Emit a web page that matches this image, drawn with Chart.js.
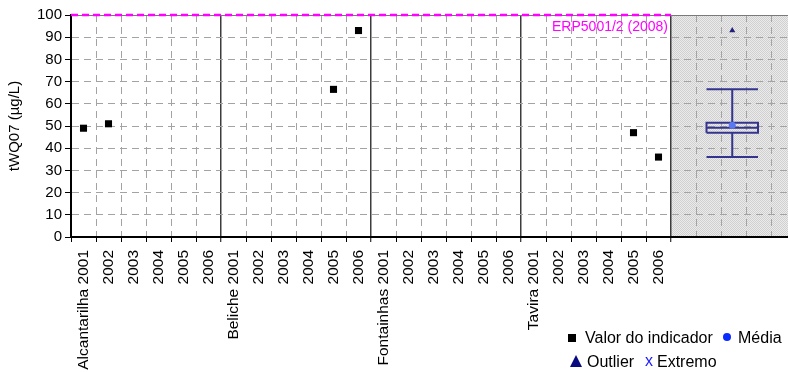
<!DOCTYPE html>
<html>
<head>
<meta charset="utf-8">
<script src="https://cdn.jsdelivr.net/npm/chart.js@4/dist/chart.umd.min.js"></script>
<style>
  html, body { margin: 0; padding: 0; background: #fff; }
  #wrap { position: relative; width: 788px; height: 372px; font-family: 'Liberation Sans', Arial, sans-serif; }
  #c { position: absolute; left: 0; top: 0; }
  .lg { position: absolute; font-size: 16px; line-height: 18px; color: #000; white-space: nowrap; }
  .sym { position: absolute; }
</style>
</head>
<body>
<div id="wrap">
  <canvas id="c" width="788" height="372"></canvas>
  <!-- legend -->
  <div class="sym" style="left:568px;top:334px;width:8px;height:8px;background:#000;"></div>
  <div class="lg" style="left:585px;top:329px;">Valor do indicador</div>
  <div class="sym" style="left:723px;top:333px;width:8px;height:8px;border-radius:50%;background:#0a2cff;"></div>
  <div class="lg" style="left:738px;top:329px;">Média</div>
  <div class="sym" style="left:570px;top:355px;width:0;height:0;border-left:6.5px solid transparent;border-right:6.5px solid transparent;border-bottom:12px solid #0a0a80;"></div>
  <div class="lg" style="left:587px;top:353px;">Outlier</div>
  <div class="lg" style="left:645px;top:352px;color:#1a1aff;">x</div>
  <div class="lg" style="left:657px;top:353px;">Extremo</div>
</div>
<script>
// Stations and sampling years along the x axis
const stations = ['Alcantarilha', 'Beliche', 'Fontainhas', 'Tavira'];
const years = ['2001', '2002', '2003', '2004', '2005', '2006'];
const categories = stations.flatMap(s => years.map((y, i) => (i === 0 ? s + ' ' + y : y)));

// tWQ07 indicator value per station/year (null = no sample)
const alcantarilhaValues = [49, 51, null, null, null, null];
const belicheValues      = [null, null, null, null, 66.5, 93];
const fontainhasValues   = [null, null, null, null, null, null];
const taviraValues       = [null, null, null, null, 47, 36];
const indicatorValues = [...alcantarilhaValues, ...belicheValues, ...fontainhasValues, ...taviraValues];

// Reference limit
const limitValue = 100;
const limitLabel = 'ERP5001/2 (2008)';

// Summary box plot: whiskers, quartiles/median, mean, outliers
const whiskerValues = [36, 66.5];
const quartileValues = [47, 49.2, 51.5];
const meanValue = 50.3;
const outlierValues = [93];

// y axis ticks
const yTicks = [0, 10, 20, 30, 40, 50, 60, 70, 80, 90, 100];

// geometry of the x axis (in category units)
const nCat = categories.length;
const xMax = 28.68;
const boxCenter = 26.45;
const boxHalf = 1.03;

const FONT = "'Liberation Sans', Arial, sans-serif";
const isHalf = v => Math.abs(v - Math.floor(v) - 0.5) < 1e-6;
const isStationEdge = v => v > 0 && v <= nCat && Math.abs(v % years.length) < 1e-6;

// points of the indicator series, centred in each category slot
const indicatorPoints = indicatorValues.map((v, i) => ({ x: i + 0.5, y: v }));

// box plot outline as broken polyline
const [wLo, wHi] = whiskerValues;
const [q1, med, q3] = quartileValues;
const c = boxCenter, L = boxCenter - boxHalf, R = boxCenter + boxHalf;
const gap = { x: c, y: null };
const boxPath = [
  { x: L, y: wHi }, { x: R, y: wHi }, gap,
  { x: c, y: wHi }, { x: c, y: q3 }, gap,
  { x: c, y: q1 }, { x: c, y: wLo }, gap,
  { x: L, y: wLo }, { x: R, y: wLo }, gap,
  { x: L, y: q1 }, { x: R, y: q1 }, { x: R, y: q3 }, { x: L, y: q3 }, { x: L, y: q1 }, gap,
  { x: L, y: med }, { x: R, y: med }
];

// stippled grey fill for the summary panel
function stipple() {
  const p = document.createElement('canvas');
  p.width = 2; p.height = 2;
  const g = p.getContext('2d');
  g.fillStyle = '#ebebeb'; g.fillRect(0, 0, 2, 2);
  g.fillStyle = '#d0d0d0'; g.fillRect(0, 0, 1, 1); g.fillRect(1, 1, 1, 1);
  return g.createPattern(p, 'repeat');
}

const panelShade = {
  id: 'panelShade',
  beforeDraw(chart) {
    const { ctx, chartArea: a, scales: { x } } = chart;
    const left = x.getPixelForValue(nCat);
    ctx.save();
    ctx.fillStyle = stipple();
    ctx.fillRect(left, a.top, a.right - left, a.bottom - a.top);
    ctx.restore();
  }
};

const limitText = {
  id: 'limitText',
  afterDatasetsDraw(chart) {
    const { ctx, scales: { x, y } } = chart;
    ctx.save();
    ctx.font = '14px ' + FONT;
    ctx.fillStyle = '#ff00ff';
    ctx.textAlign = 'right';
    ctx.textBaseline = 'middle';
    ctx.fillText(limitLabel, x.getPixelForValue(nCat) - 3, y.getPixelForValue(limitValue) + 12);
    ctx.restore();
  }
};

new Chart(document.getElementById('c'), {
  type: 'scatter',
  data: {
    datasets: [
      {
        label: 'Valor do indicador',
        data: indicatorPoints,
        pointStyle: 'rect',
        pointRadius: 5,
        backgroundColor: '#000',
        borderColor: '#000',
        borderWidth: 0,
        order: 0
      },
      {
        label: 'Outlier',
        data: outlierValues.map(v => ({ x: boxCenter, y: v })),
        pointStyle: 'triangle',
        pointRadius: 3.5,
        backgroundColor: '#22227a',
        borderColor: '#22227a',
        borderWidth: 0,
        order: 1
      },
      {
        label: 'Média',
        data: [{ x: boxCenter, y: meanValue }],
        pointStyle: 'circle',
        pointRadius: 3.5,
        backgroundColor: '#5a78f0',
        borderColor: '#5a78f0',
        borderWidth: 0,
        order: 2
      },
      {
        label: 'box',
        data: boxPath,
        showLine: true,
        spanGaps: false,
        pointRadius: 0,
        borderColor: '#34348f',
        borderWidth: 2,
        borderJoinStyle: 'miter',
        borderCapStyle: 'butt',
        order: 3
      },
      {
        label: limitLabel,
        data: [{ x: 0, y: limitValue }, { x: nCat, y: limitValue }],
        showLine: true,
        pointRadius: 0,
        borderColor: '#ff00ff',
        borderWidth: 2.5,
        borderDash: [7, 4],
        clip: false,
        order: 4
      }
    ]
  },
  options: {
    responsive: false,
    animation: false,
    devicePixelRatio: 1,
    events: [],
    layout: { autoPadding: false, padding: { top: 15, right: 0, left: 0, bottom: 0 } },
    plugins: { legend: { display: false }, tooltip: { enabled: false } },
    scales: {
      x: {
        type: 'linear',
        min: 0,
        max: xMax,
        afterBuildTicks(scale) {
          const t = [];
          for (let i = 0; i <= Math.floor(xMax); i++) {
            t.push({ value: i });
            if (i < nCat) t.push({ value: i + 0.5 });
          }
          scale.ticks = t;
        },
        afterFit(scale) {
          scale.height = 135;
          scale.paddingLeft = 0;
          scale.paddingRight = 0;
        },
        ticks: {
          autoSkip: false,
          minRotation: 90,
          maxRotation: 90,
          padding: 8,
          color: '#000',
          font: { family: FONT, size: 15.5 },
          callback(v) {
            if (isHalf(v) && v < nCat) return categories[Math.floor(v)];
            return '';
          }
        },
        grid: {
          drawOnChartArea: true,
          color(ctx) {
            const v = ctx.tick ? ctx.tick.value : 0;
            if (isHalf(v) || v === 0) return 'rgba(0,0,0,0)';
            if (isStationEdge(v)) return '#3c3c3c';
            return '#a3a3a3';
          },
          lineWidth(ctx) {
            const v = ctx.tick ? ctx.tick.value : 0;
            return isStationEdge(v) ? 1.5 : 1;
          },
          tickLength: 5,
          tickColor(ctx) {
            const v = ctx.tick ? ctx.tick.value : 0;
            return (isHalf(v) || v > nCat) ? 'rgba(0,0,0,0)' : '#000';
          },
          tickWidth: 1
        },
        border: {
          display: true,
          color: '#000',
          width: 2,
          dash(ctx) {
            if (!ctx.tick) return [];
            const v = ctx.tick.value;
            return isStationEdge(v) ? [] : [7, 5];
          }
        }
      },
      y: {
        min: 0,
        max: 100,
        afterBuildTicks(scale) { scale.ticks = yTicks.map(v => ({ value: v })); },
        afterFit(scale) { scale.width = 71; },
        ticks: {
          color: '#000',
          padding: 3,
          font: { family: FONT, size: 15 }
        },
        title: {
          display: true,
          text: 'tWQ07 (µg/L)',
          color: '#000',
          font: { family: FONT, size: 15 },
          padding: { top: 6, bottom: 0 }
        },
        grid: {
          color(ctx) {
            const v = ctx.tick ? ctx.tick.value : 0;
            if (v === 0) return 'rgba(0,0,0,0)';
            if (v === 100) return '#7a7a7a';
            return '#a3a3a3';
          },
          tickLength: 6,
          tickColor: '#000',
          tickWidth: 1
        },
        border: {
          display: true,
          color: '#000',
          width: 2,
          dash(ctx) {
            if (!ctx.tick) return [];
            const v = ctx.tick.value;
            return v === 100 ? [] : [7, 5];
          }
        }
      }
    }
  },
  plugins: [panelShade, limitText]
});
</script>
</body>
</html>
